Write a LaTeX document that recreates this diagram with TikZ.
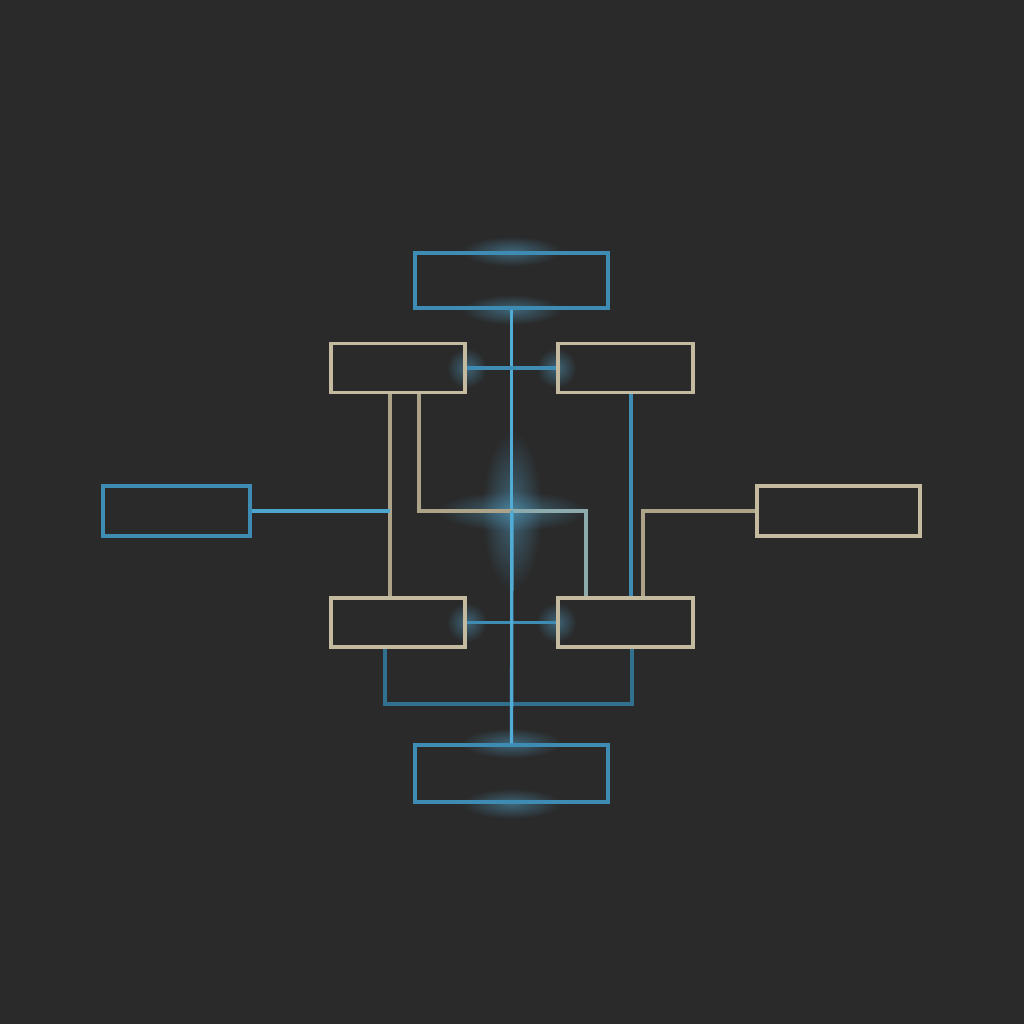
\documentclass[tikz,border=0pt]{standalone}
\usepackage{tikz}
\usepackage{xcolor}
\usetikzlibrary{positioning, calc, backgrounds, fadings}
\definecolor{panelgray}{RGB}{42,42,42}
\definecolor{wireblue}{RGB}{62,140,180}
\definecolor{brightblue}{RGB}{80,172,212}
\definecolor{sandlight}{RGB}{205,196,168}
\definecolor{sanddark}{RGB}{140,130,105}
\definecolor{glowblue}{RGB}{80,150,185}
\tikzfading[name=glowfade, inner color=transparent!45, outer color=transparent!100]

\begin{document}
\begin{tikzpicture}[
  blue box/.style = {draw=wireblue, line width=0.95pt, minimum width=#1, minimum height=0.5cm, inner sep=0pt},
  sand box/.style = {draw=sandlight!85!sanddark, line width=0.95pt, minimum width=#1, minimum height=0.49cm, inner sep=0pt},
  blue wire/.style = {draw=wireblue, line width=0.95pt},
  sand wire/.style = {draw=sanddark!50!sandlight, line width=0.95pt},
  glow/.style = {fill=glowblue, path fading=glowfade}
]
  \useasboundingbox (0,0) rectangle (10.24,10.24);

  % boxes
  \node[blue box=1.93cm, minimum height=0.55cm] (top) at (5.115,7.435) {};
  \node[sand box=1.34cm] (upl) at (3.98,6.56) {};
  \node[sand box=1.35cm] (upr) at (6.255,6.56) {};
  \node[blue box=1.47cm] (left) at (1.765,5.13) {};
  \node[sand box=1.63cm, minimum height=0.5cm] (right) at (8.385,5.13) {};
  \node[sand box=1.34cm] (lowl) at (3.98,4.015) {};
  \node[sand box=1.35cm] (lowr) at (6.255,4.015) {};
  \node[blue box=1.93cm, minimum height=0.57cm] (bottom) at (5.115,2.505) {};

  \coordinate (hub) at (5.12,5.13);
  \coordinate (trough) at (5.12,3.20);
  \coordinate (lefttap) at ([xshift=-0.08cm]lowl.north);

  % glows
  \begin{scope}[on background layer]
    \fill[panelgray] (0,0) rectangle (10.24,10.24);
    \path[glow] (top.north) ellipse (0.5 and 0.15);
    \path[glow] (top.south) ellipse (0.5 and 0.15);
    \path[glow] (bottom.north) ellipse (0.5 and 0.15);
    \path[glow] (bottom.south) ellipse (0.5 and 0.15);
    \path[glow] (hub) ellipse (0.3 and 0.8);
    \path[glow] (hub) ellipse (0.75 and 0.2);
    \path[glow] (upl.east) circle (0.2);
    \path[glow] (upr.west) circle (0.2);
    \path[glow] (lowl.east) circle (0.2);
    \path[glow] (lowr.west) circle (0.2);
  \end{scope}

  % connectors
  \draw[blue wire, draw=brightblue] (top.south) -- (bottom.north);
  \draw[blue wire] (upl.east) -- (upr.west);
  \draw[blue wire] (lowl.east) -- (lowr.west);
  \draw[sand wire] ([xshift=-0.08cm]upl.south) -- (lefttap);
  \draw[blue wire, draw=brightblue!80!wireblue] (left.east) -- (left.east -| lefttap);
  \draw[sand wire] ([xshift=0.21cm]upl.south) |- (hub);
  \draw[sand wire, draw=sandlight!55!wireblue] (hub) -| ([xshift=-0.395cm]lowr.north);
  \draw[blue wire] ([xshift=0.055cm]upr.south) -- ([xshift=0.055cm]lowr.north);
  \draw[sand wire] (right.west) -| ([xshift=0.175cm]lowr.north);
  \draw[blue wire, draw=wireblue!80!black] ([xshift=-0.13cm]lowl.south) |- (trough) -| ([xshift=0.065cm]lowr.south);
  \draw[blue wire, draw=brightblue] (hub) -- (bottom.north);
\end{tikzpicture}
\end{document}
